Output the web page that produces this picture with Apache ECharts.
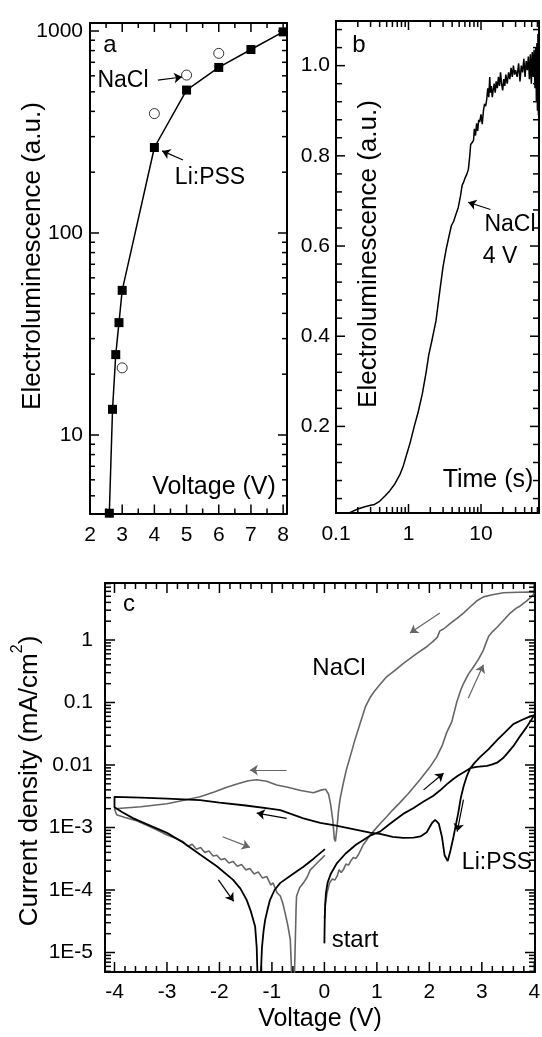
<!DOCTYPE html>
<html><head><meta charset="utf-8">
<script src="https://cdn.jsdelivr.net/npm/echarts@6/dist/echarts.min.js"></script>
<style>html,body{margin:0;padding:0;background:#fff}#c{width:542px;height:1037px}</style>
</head><body><div id="c"></div>
<script>
// ---------------- data ----------------
// panel a : electroluminescence vs voltage
const aLiV  = [2.6, 2.7, 2.8, 2.9, 3.0, 4.0, 5.0, 6.0, 7.0, 8.0];
const aLiEL = [4.1, 13.4, 25, 36, 52, 265, 510, 660, 810, 990];
const aNaV  = [3.0, 4.0, 5.0, 6.0];
const aNaEL = [21.5, 390, 605, 775];
// panel b : EL vs time (NaCl, 4 V)  [time s, EL a.u.]
const bCurve = [[0.1,0.004],[0.13,0.006],[0.16,0.010],[0.2,0.017],[0.25,0.022],[0.3,0.025],[0.34,0.027],[0.4,0.034],[0.47,0.045],[0.55,0.057],[0.65,0.073],[0.76,0.093],[0.85,0.113],[0.94,0.137],[1.05,0.163],[1.2,0.200],[1.36,0.232],[1.55,0.272],[1.75,0.320],[1.9,0.358],[2.1,0.390],[2.4,0.435],[2.7,0.500],[3.0,0.555],[3.3,0.592],[3.6,0.620],[3.9,0.645],[4.2,0.655],[4.5,0.670],[4.85,0.685],[5.2,0.710],[5.5,0.735],[5.7,0.740],[6.0,0.750],[6.4,0.760],[6.7,0.770],[7.0,0.800],[7.2,0.825],[7.4,0.822],[7.6,0.830],[7.9,0.835],[8.1,0.860],[8.4,0.845],[8.7,0.872],[9.0,0.855],[9.3,0.880],[9.6,0.875],[10.0,0.892],[10.4,0.870],[10.8,0.900],[11.2,0.915],[11.6,0.910],[12.0,0.925],[12.4,0.950],[12.8,0.930],[13.2,0.975],[13.5,0.940],[13.9,0.955],[14.3,0.930],[14.7,0.945],[15.2,0.960],[15.7,0.940],[16.2,0.965],[16.8,0.950],[17.4,0.975],[18.0,0.955],[18.6,0.985],[19.2,0.960],[19.9,0.945],[20.6,0.970],[21.3,0.955],[22,0.980],[23,0.960],[24,0.985],[25,0.970],[26,0.995],[27,0.975],[28,1.000],[29,0.980],[30,0.990],[31.5,0.975],[33,1.005],[34.5,0.965],[36,1.000],[37.5,0.985],[39,1.015],[40.5,0.975],[42,1.010],[43.5,0.990],[45,1.020],[46.5,0.970],[48,1.025],[49.5,0.960],[51,1.030],[52.5,0.975],[54,1.035],[55.5,0.950],[57,1.040],[58,0.920],[59,1.050],[60,0.900],[61,1.070],[62,0.890]];
// panel c : current density vs voltage  [V, mA/cm2]
const cLiPSS = [[0.0,1.4e-5],[0.005,3e-5],[0.015,6e-5],[0.03,9e-5],[0.06,1.3e-4],[0.12,1.8e-4],[0.24,2.7e-4],[0.4,3.8e-4],[0.6,5.3e-4],[0.87,7.4e-4],[1.06,8.6e-4],[1.25,1.15e-3],[1.5,1.65e-3],[1.7,2.05e-3],[1.89,2.6e-3],[2.07,3.2e-3],[2.2,3.9e-3],[2.33,4.9e-3],[2.45,5.9e-3],[2.55,6.8e-3],[2.67,7.8e-3],[2.78,8.9e-3],[2.9,9.3e-3],[3.0,9.5e-3],[3.1,9.7e-3],[3.2,1.02e-2],[3.29,1.09e-2],[3.4,1.28e-2],[3.48,1.52e-2],[3.6,2.0e-2],[3.73,2.9e-2],[3.85,4.0e-2],[3.95,5.4e-2],[4.0,6.3e-2],
[3.9,5.9e-2],[3.75,5.2e-2],[3.6,4.5e-2],[3.45,3.4e-2],[3.29,2.5e-2],[3.13,1.8e-2],[2.97,1.35e-2],[2.87,1.1e-2],[2.78,8.9e-3],[2.71,6.5e-3],[2.65,4.5e-3],[2.6,3.0e-3],[2.55,1.7e-3],[2.5,1.05e-3],[2.46,7.1e-4],[2.4,4.2e-4],[2.35,2.9e-4],[2.32,2.8e-4],[2.29,3.6e-4],[2.24,7.1e-4],[2.18,1.15e-3],[2.11,1.32e-3],[2.05,1.18e-3],[1.95,8.4e-4],[1.83,7.2e-4],[1.7,6.9e-4],[1.5,6.8e-4],[1.3,7.1e-4],[1.06,7.9e-4],[0.87,8.3e-4],[0.5,9.6e-4],[0.2,1.08e-3],[-0.08,1.19e-3],[-0.4,1.4e-3],[-0.84,1.9e-3],[-1.04,2.0e-3],[-1.5,2.25e-3],[-2.0,2.5e-3],[-2.37,2.75e-3],[-3.0,2.9e-3],[-3.5,3.0e-3],[-4.0,3.1e-3],
[-4.0,2.1e-3],[-3.85,1.75e-3],[-3.64,1.4e-3],[-3.3,1.05e-3],[-3.0,8.2e-4],[-2.7,5.8e-4],[-2.37,3.7e-4],[-2.05,2.4e-4],[-1.74,1.45e-4],[-1.6,1.05e-4],[-1.48,6.9e-5],[-1.4,4.5e-5],[-1.32,2.6e-5],[-1.29,1.2e-5],[-1.27,3e-6],[-1.22,3e-6],[-1.19,1.2e-5],[-1.16,2.2e-5],[-1.13,3.3e-5],[-1.08,5e-5],[-1.04,6.8e-5],[-0.95,1e-4],[-0.84,1.3e-4],[-0.6,1.8e-4],[-0.4,2.35e-4],[-0.2,3.2e-4],[0.01,4.5e-4]];
const cNaCl = [[0.0,3.5e-5],[0.02,6e-5],[0.05,9e-5],[0.1,1.3e-4],[0.15,1.5e-4],[0.2,1.45e-4],[0.24,1.65e-4],[0.28,2.1e-4],[0.32,1.9e-4],[0.36,2.1e-4],[0.41,2.6e-4],[0.46,2.5e-4],[0.5,2.9e-4],[0.55,3.3e-4],[0.6,3.2e-4],[0.65,3.7e-4],[0.7,4.5e-4],[0.74,5.3e-4],[0.8,6.2e-4],[0.87,7.6e-4],[0.95,9e-4],[1.06,1.15e-3],[1.19,1.5e-3],[1.3,1.9e-3],[1.44,2.5e-3],[1.6,3.5e-3],[1.82,5.8e-3],[2.0,9e-3],[2.14,1.35e-2],[2.25,2.1e-2],[2.33,3.3e-2],[2.43,5e-2],[2.52,0.1],[2.6,0.16],[2.65,0.2],[2.75,0.29],[2.84,0.37],[2.94,0.5],[3.03,0.69],[3.08,0.9],[3.13,1.15],[3.2,1.35],[3.29,1.6],[3.41,2.05],[3.54,2.7],[3.65,3.2],[3.73,3.5],[3.85,4.2],[3.93,4.8],[3.98,5.3],[4.0,5.8],
[3.9,5.85],[3.7,5.8],[3.41,5.7],[3.2,5.3],[3.03,4.9],[2.9,4.2],[2.78,3.4],[2.65,2.7],[2.52,2.2],[2.4,1.85],[2.27,1.5],[2.2,1.4],[2.15,1.1],[2.07,0.95],[1.95,0.78],[1.75,0.6],[1.5,0.42],[1.35,0.33],[1.19,0.26],[1.05,0.19],[0.95,0.15],[0.87,0.12],[0.78,0.085],[0.68,0.046],[0.58,0.025],[0.49,0.0135],[0.42,0.0085],[0.36,0.0051],[0.3,0.0029],[0.27,0.0019],[0.24,0.001],[0.21,6e-4],[0.19,6.5e-4],[0.16,1.3e-3],[0.12,2.3e-3],[0.08,3.4e-3],[0.02,4.1e-3],[-0.05,4.0e-3],[-0.21,3.6e-3],[-0.45,3.9e-3],[-0.7,4.4e-3],[-0.91,4.8e-3],[-1.1,5.5e-3],[-1.29,5.8e-3],[-1.45,5.6e-3],[-1.65,5.0e-3],[-1.86,4.4e-3],[-2.1,3.7e-3],[-2.37,3.1e-3],[-2.7,2.7e-3],[-3.0,2.4e-3],[-3.5,2.15e-3],[-4.0,2.0e-3],
[-3.96,1.6e-3],[-3.8,1.45e-3],[-3.6,1.3e-3],[-3.45,1.15e-3],[-3.32,1.03e-3],[-3.15,8.8e-4],[-3.0,7.6e-4],[-2.85,6.8e-4],[-2.69,5.9e-4],[-2.6,5.0e-4],[-2.52,5.4e-4],[-2.44,4.5e-4],[-2.36,4.8e-4],[-2.28,4.0e-4],[-2.2,4.2e-4],[-2.12,3.5e-4],[-2.05,3.6e-4],[-1.97,3.05e-4],[-1.9,3.2e-4],[-1.82,2.7e-4],[-1.74,2.85e-4],[-1.66,2.4e-4],[-1.58,2.55e-4],[-1.5,2.1e-4],[-1.42,2.2e-4],[-1.34,1.8e-4],[-1.26,1.95e-4],[-1.18,1.55e-4],[-1.1,1.65e-4],[-1.02,1.2e-4],[-0.98,1.3e-4],[-0.9,9e-5],[-0.84,8e-5],[-0.79,6e-5],[-0.75,4.3e-5],[-0.7,2.8e-5],[-0.65,1.6e-5],[-0.63,6e-6],[-0.62,2e-6],[-0.58,2e-6],[-0.56,1e-5],[-0.54,5e-5],[-0.53,8e-5],[-0.47,1.1e-4],[-0.4,1.3e-4],[-0.33,1.6e-4],[-0.27,2.1e-4],[-0.21,2.35e-4],[-0.12,2.8e-4],[-0.05,3.2e-4],[0.01,3.6e-4]];

// tick labels
const aXTicks = [2,3,4,5,6,7,8];          const aXLabels = ['2','3','4','5','6','7','8'];
const aYTicks = [10,100,1000];            const aYLabels = ['10','100','1000'];
const bXTicks = [0.1,1,10];               const bXLabels = ['0.1','1','10'];
const bYTicks = [0.2,0.4,0.6,0.8,1.0];    const bYLabels = ['0.2','0.4','0.6','0.8','1.0'];
const cXTicks = [-4,-3,-2,-1,0,1,2,3,4];  const cXLabels = ['-4','-3','-2','-1','0','1','2','3','4'];
const cYTicks = [1e-5,1e-4,1e-3,0.01,0.1,1]; const cYLabels = ['1E-5','1E-4','1E-3','0.01','0.1','1'];

// annotation arrows [[x1,y1],[x2,y2]] in data units
const aArrows = [[[4.11,571],[4.86,592]], [[4.89,230],[4.24,255]]];
const bArrows = [[[13.5,0.681],[6.65,0.697]]];
const cGrayArrows = [[[-0.72,0.0083],[-1.42,0.0083]], [[2.2,2.7],[1.63,1.29]], [[2.74,0.117],[3.03,0.4]], [[-1.94,7.1e-4],[-1.42,4.8e-4]]];
const cBlackArrows = [[[-2.02,1.45e-4],[-1.73,6.6e-5]], [[-0.72,1.4e-3],[-1.29,1.7e-3]], [[1.89,0.004],[2.27,0.0074]], [[2.65,0.0028],[2.53,8.6e-4]]];

// ---------------- helpers ----------------
const L = Math.log10;
const FONT = '"Liberation Sans", Arial, Helvetica, sans-serif';
function logMinors(nFrom, nTo, lo, hi) {
  const out = [];
  for (let n = nFrom; n <= nTo; n++) for (let k = 2; k <= 9; k++) {
    const v = k * Math.pow(10, n);
    if (v > lo && v < hi) out.push(L(v));
  }
  return out;
}
function axisPair(dim, grid, min, max, majors, labels, margin) {
  const pos = dim === 'x' ? ['bottom', 'top'] : ['left', 'right'];
  const fmt = v => { let bi = 0, bd = Infinity; majors.forEach((m, i) => { const d = Math.abs(m - v); if (d < bd) { bd = d; bi = i; } }); return labels[bi]; };
  const mk = (p, showLabel) => ({
    type: 'value', gridIndex: grid, min: min, max: max, position: p,
    splitLine: { show: false },
    axisLine: { show: true, onZero: false, lineStyle: { color: '#000', width: 2 } },
    axisTick: { show: false },
    axisLabel: showLabel ? { show: true, customValues: majors, formatter: fmt, color: '#000', fontFamily: FONT, fontSize: 21, margin: margin } : { show: false },
    axisPointer: { show: false }
  });
  return [mk(pos[0], true), mk(pos[1], false)];
}

// axis ranges (transformed: log10 for log axes)
const aX = [2, 8.12], aY = [0.6114, 3.0396];
const bX = [-1, 1.8], bY = [0.008, 1.099];
const cX = [-4.181, 4.013], cY = [-5.312, 0.912];

const aXMinor = [2.5,3.5,4.5,5.5,6.5,7.5];
const aYMinor = logMinors(0, 2, Math.pow(10, aY[0]), Math.pow(10, aY[1]));
const bXMinor = logMinors(-1, 1, Math.pow(10, bX[0]), Math.pow(10, bX[1]));
const bYMinor = []; for (let i = 1; i <= 27; i++) if (i % 5) bYMinor.push(i * 0.04);
const cXMinor = []; for (let i = -19; i <= 19; i++) if (i % 5) cXMinor.push(i * 0.2);
const cYMinor = logMinors(-6, 0, Math.pow(10, cY[0]), Math.pow(10, cY[1]));

const xAxes = [].concat(
  axisPair('x', 0, aX[0], aX[1], aXTicks, aXLabels, 11),
  axisPair('x', 1, bX[0], bX[1], bXTicks.map(L), bXLabels, 11),
  axisPair('x', 2, cX[0], cX[1], cXTicks, cXLabels, 10)
);
const yAxes = [].concat(
  axisPair('y', 0, aY[0], aY[1], aYTicks.map(L), aYLabels, 7),
  axisPair('y', 1, bY[0], bY[1], bYTicks, bYLabels, 6),
  axisPair('y', 2, cY[0], cY[1], cYTicks.map(L), cYLabels, 12)
);

// inward tick marks on all four sides, placed through the axes' scales
function tickSeries(ai, xr, yr, xMaj, xMin, yMaj, yMin, lMaj, lMin) {
  const data = [].concat(
    xMaj.map(v => [v, 0, lMaj]), xMin.map(v => [v, 0, lMin]),
    yMaj.map(v => [v, 1, lMaj]), yMin.map(v => [v, 1, lMin]));
  return {
    type: 'custom', xAxisIndex: ai, yAxisIndex: ai, clip: false, silent: true, z: 6, data: data,
    renderItem: function (params, api) {
      const v = api.value(0), f = api.value(1), len = api.value(2);
      const st = { stroke: '#000', lineWidth: 1.5 };
      let p, q, c1, c2;
      if (f === 0) {
        p = api.coord([v, yr[0]]); q = api.coord([v, yr[1]]);
        c1 = { x1: p[0], y1: p[1], x2: p[0], y2: p[1] - len };
        c2 = { x1: q[0], y1: q[1], x2: q[0], y2: q[1] + len };
      } else {
        p = api.coord([xr[0], v]); q = api.coord([xr[1], v]);
        c1 = { x1: p[0], y1: p[1], x2: p[0] + len, y2: p[1] };
        c2 = { x1: q[0], y1: q[1], x2: q[0] - len, y2: q[1] };
      }
      return { type: 'group', children: [
        { type: 'line', shape: c1, style: st }, { type: 'line', shape: c2, style: st }] };
    }
  };
}

function arrowSeries(list, ai, fx, fy, color) {
  return {
    type: 'lines', coordinateSystem: 'cartesian2d', xAxisIndex: ai, yAxisIndex: ai,
    symbol: ['none', 'arrow'], symbolSize: 8, z: 5,
    lineStyle: { color: color, width: 1.2, opacity: 1 },
    data: list.map(a => ({ coords: [[fx(a[0][0]), fy(a[0][1])], [fx(a[1][0]), fy(a[1][1])]] }))
  };
}
const id = v => v;

function txt(text, x, y, size, extra) {
  return Object.assign({ type: 'text', x: x, y: y, z: 100,
    style: { text: text, font: size + 'px ' + FONT, fill: '#000', align: 'center', verticalAlign: 'middle' } }, extra || {});
}

const option = {
  animation: false,
  backgroundColor: '#fff',
  grid: [
    { left: 90, top: 23, width: 197, height: 490.5, outerBoundsMode: 'none' },
    { left: 336, top: 21, width: 203, height: 492, outerBoundsMode: 'none' },
    { left: 105, top: 583, width: 430, height: 389, outerBoundsMode: 'none' }
  ],
  xAxis: xAxes,
  yAxis: yAxes,
  series: [
    { type: 'line', xAxisIndex: 0, yAxisIndex: 0, data: aLiV.map((v, i) => [v, L(aLiEL[i])]),
      symbol: 'rect', symbolSize: 9, lineStyle: { color: '#000', width: 1.5 }, itemStyle: { color: '#000' }, z: 3 },
    { type: 'scatter', xAxisIndex: 0, yAxisIndex: 0, data: aNaV.map((v, i) => [v, L(aNaEL[i])]),
      symbol: 'circle', symbolSize: 10, itemStyle: { color: '#fff', borderColor: '#000', borderWidth: 1 }, z: 3 },
    { type: 'line', xAxisIndex: 2, yAxisIndex: 2, data: bCurve.map(p => [L(p[0]), p[1]]),
      symbol: 'none', lineStyle: { color: '#000', width: 1.5 } },
    { type: 'line', xAxisIndex: 4, yAxisIndex: 4, data: cNaCl.map(p => [p[0], L(p[1])]),
      symbol: 'none', lineStyle: { color: '#666', width: 1.6 } },
    { type: 'line', xAxisIndex: 4, yAxisIndex: 4, data: cLiPSS.map(p => [p[0], L(p[1])]),
      symbol: 'none', lineStyle: { color: '#000', width: 1.8 } },
    arrowSeries(aArrows, 0, id, L, '#000'),
    arrowSeries(bArrows, 2, L, id, '#000'),
    arrowSeries(cGrayArrows, 4, id, L, '#666'),
    arrowSeries(cBlackArrows, 4, id, L, '#000'),
    tickSeries(0, aX, aY, aXTicks, aXMinor, aYTicks.map(L), aYMinor, 9, 5),
    tickSeries(2, bX, bY, bXTicks.map(L), bXMinor, bYTicks, bYMinor, 9, 6),
    tickSeries(4, cX, cY, cXTicks, cXMinor, cYTicks.map(L), cYMinor, 10, 6)
  ],
  graphic: [
    txt('a', 110, 45, 24),
    txt('NaCl', 123, 81, 23),
    txt('Li:PSS', 210, 178, 23),
    txt('Voltage (V)', 214, 487, 25),
    txt('Electroluminescence (a.u.)', 33, 256, 26, { rotation: Math.PI / 2 }),
    txt('b', 359, 45, 24),
    txt('Electroluminescence (a.u.)', 369, 254, 26, { rotation: Math.PI / 2 }),
    txt('NaCl', 510, 225, 23),
    txt('4 V', 500, 257, 23),
    txt('Time (s)', 488, 480, 25),
    txt('c', 129, 604, 24),
    txt('NaCl', 339, 668, 24),
    txt('Li:PSS', 497, 863, 23),
    txt('start', 355, 940, 24),
    txt('Voltage (V)', 320, 1019, 25),
    { type: 'text', x: 30, y: 781, rotation: Math.PI / 2, z: 100,
      style: { text: '{m|Current density (mA/cm}{s|2}{m|)}', align: 'center', verticalAlign: 'middle', fill: '#000',
        rich: { m: { fontSize: 26, fontFamily: FONT, lineHeight: 40, fill: '#000' },
                s: { fontSize: 16, fontFamily: FONT, lineHeight: 16, verticalAlign: 'top', fill: '#000' } } } }
  ]
};
const chart = echarts.init(document.getElementById('c'), null, { renderer: 'canvas' });
chart.setOption(option);
</script></body></html>
